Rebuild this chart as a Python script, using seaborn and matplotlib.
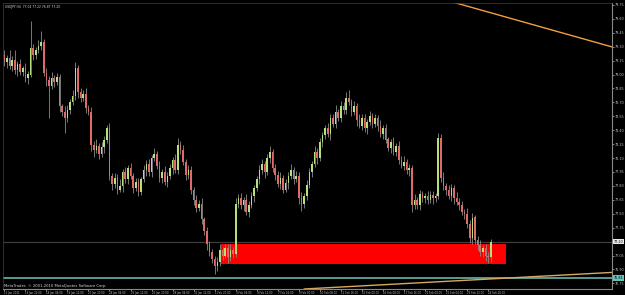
import matplotlib
matplotlib.use("Agg")
import numpy as np
import pandas as pd
import matplotlib.pyplot as plt
import seaborn as sns

# ---------------- data ----------------
first_open = 79.21
closes = [
    79.13, 79.18, 79.09, 79.16, 79.05, 79.11, 79.03, 79.07, 78.96, 79.00,
    79.28, 79.21, 79.26, 79.31, 79.35, 79.02, 78.94, 78.88, 78.96, 78.92,
    78.97, 78.66, 78.60, 78.53, 78.62, 78.70, 78.77, 79.07, 78.81, 78.75,
    78.79, 78.64, 78.60, 78.24, 78.19, 78.23, 78.14, 78.22, 78.30, 78.42,
    77.91, 77.82, 77.89, 77.76, 77.80, 77.95, 77.87, 77.99, 77.91, 77.78,
    77.84, 77.74, 77.87, 77.97, 78.04, 77.95, 78.10, 78.14, 78.02, 77.89,
    77.95, 77.84, 77.91, 77.99, 78.08, 77.97, 78.24, 78.19, 78.06, 77.92,
    77.97, 77.76, 77.65, 77.56, 77.61, 77.44, 77.31, 77.17, 77.09, 77.01,
    76.94, 76.98, 77.11, 77.05, 77.13, 77.03, 77.11, 77.07, 77.61, 77.67,
    77.59, 77.65, 77.52, 77.60, 77.69, 77.78, 77.87, 77.97, 78.04, 77.95,
    78.10, 78.17, 77.99, 77.92, 77.82, 77.89, 77.76, 77.83, 77.91, 77.97,
    77.87, 77.91, 77.67, 77.61, 77.69, 77.81, 77.95, 78.04, 78.17, 78.10,
    78.27, 78.35, 78.42, 78.36, 78.53, 78.47, 78.60, 78.53, 78.66, 78.62,
    78.75, 78.70, 78.60, 78.66, 78.51, 78.45, 78.53, 78.42, 78.49, 78.55,
    78.47, 78.53, 78.45, 78.36, 78.42, 78.30, 78.21, 78.27, 78.17, 78.23,
    78.08, 78.02, 78.06, 77.97, 77.99, 77.59, 77.65, 77.60, 77.71, 77.67,
    77.69, 77.65, 77.70, 77.67, 77.69, 78.32, 77.89, 77.80, 77.76, 77.69,
    77.78, 77.67, 77.63, 77.59, 77.52, 77.50, 77.39, 77.24, 77.46, 77.22,
    77.16, 77.09, 77.13, 77.05, 77.03, 77.20,
]
upper_wick = [
    .05, .03, .08, .04, .10, .03, .06, .02, .05, .04,
    .30, .05, .04, .06, .12, .03, .05, .04, .07, .03,
    .05, .04, .02, .06, .05, .04, .06, .06, .03, .05,
    .04, .06, .03, .05, .04, .08, .03, .05, .04, .04,
    .06, .03, .05, .04, .07, .03, .05, .04, .06, .03,
    .05, .04, .03, .06, .04, .05, .03, .07, .04, .05,
    .03, .06, .04, .05, .03, .06, .08, .04, .05, .03,
    .06, .04, .03, .05, .04, .06, .03, .05, .04, .03,
    .04, .05, .06, .03, .05, .04, .06, .03, .06, .04,
    .05, .03, .06, .04, .05, .03, .04, .06, .05, .03,
    .04, .06, .03, .05, .04, .06, .03, .05, .04, .07,
    .03, .05, .04, .06, .03, .05, .04, .03, .06, .04,
    .05, .03, .04, .06, .05, .04, .07, .03, .05, .04,
    .06, .08, .04, .05, .03, .06, .04, .05, .03, .06,
    .04, .05, .03, .06, .04, .05, .03, .04, .06, .03,
    .05, .04, .06, .03, .05, .04, .06, .03, .05, .04,
    .03, .06, .04, .05, .03, .05, .04, .06, .03, .05,
    .04, .03, .06, .04, .05, .03, .06, .04, .05, .03,
    .04, .06, .03, .05, .04, .03,
]
lower_wick = [
    .04, .06, .03, .05, .04, .07, .03, .05, .04, .06,
    .03, .05, .04, .03, .05, .04, .06, .35, .04, .05,
    .03, .06, .05, .16, .04, .05, .03, .04, .06, .05,
    .03, .05, .04, .06, .08, .04, .05, .03, .06, .04,
    .05, .06, .04, .05, .03, .06, .04, .05, .04, .06,
    .03, .05, .04, .03, .06, .04, .05, .03, .04, .05,
    .06, .03, .05, .04, .06, .03, .04, .05, .03, .06,
    .04, .05, .06, .04, .03, .05, .04, .06, .05, .04,
    .09, .06, .04, .05, .03, .06, .04, .05, .03, .05,
    .04, .06, .03, .05, .04, .06, .03, .05, .04, .06,
    .03, .05, .04, .06, .03, .05, .04, .03, .06, .04,
    .05, .03, .06, .08, .05, .04, .03, .05, .04, .06,
    .03, .05, .04, .03, .06, .04, .05, .03, .04, .05,
    .04, .03, .05, .04, .06, .03, .05, .04, .06, .03,
    .05, .04, .06, .03, .05, .04, .03, .06, .04, .05,
    .04, .03, .05, .04, .06, .07, .04, .05, .06, .04,
    .05, .04, .03, .06, .04, .03, .05, .04, .06, .03,
    .05, .06, .04, .05, .03, .06, .04, .05, .06, .04,
    .05, .04, .06, .06, .06, .05,
]
time_labels = [
    "13 Jan 2011", "14 Jan 22:00", "18 Jan 04:00", "19 Jan 12:00",
    "20 Jan 20:00", "24 Jan 04:00", "25 Jan 12:00", "26 Jan 20:00",
    "28 Jan 04:00", "31 Jan 12:00", "1 Feb 20:00", "3 Feb 04:00",
    "4 Feb 12:00", "7 Feb 16:00", "9 Feb 00:00", "10 Feb 08:00",
    "11 Feb 16:00", "15 Feb 00:00", "16 Feb 08:00", "17 Feb 16:00",
    "21 Feb 00:00", "22 Feb 04:00", "23 Feb 12:00", "24 Feb 20:00",
]
price_ticks = [79.75, 79.60, 79.45, 79.30, 79.15, 79.00, 78.85, 78.70, 78.55,
               78.40, 78.25, 78.10, 77.95, 77.80, 77.65, 77.50, 77.35, 77.20,
               77.05, 76.90, 76.75]
zone_bars = [82.5, 190.9]
zone_prices = [76.96, 77.17]
current_price = 77.20
support_level = 76.81
trend_top_bars = [168, 232]
trend_top_prices = [79.80, 79.29]
trend_bot_bars = [114, 232]
trend_bot_prices = [76.69, 76.87]
title_text = "USDJPY,H4  77.04 77.22 76.87 77.20"
copyright_text = "MetaTrader, \u00a9 2001-2010 MetaQuotes Software Corp."

# ---------------- build frame ----------------
opens = [first_open] + closes[:-1]
df = pd.DataFrame({"bar": np.arange(len(closes)), "open": opens, "close": closes,
                   "uw": upper_wick, "lw": lower_wick})
df["top"] = df[["open", "close"]].max(axis=1)
df["bot"] = df[["open", "close"]].min(axis=1)
df["high"] = df["top"] + df["uw"]
df["low"] = df["bot"] - df["lw"]
df["up"] = df["close"] >= df["open"]

sns.set_theme(style="dark", rc={
    "axes.facecolor": "black", "figure.facecolor": "black",
    "axes.edgecolor": "#808080", "axes.grid": False,
})
plt.rcParams["font.family"] = ["DejaVu Sans"]

fig = plt.figure(figsize=(6.25, 2.95), dpi=100)
ax = fig.add_axes([3 / 625, 6 / 295, 609 / 625, 286 / 295])
ax.set_facecolor("black")

# zone rectangle
ax.fill_between(zone_bars, zone_prices[0], zone_prices[1], color="#ff0000",
                linewidth=0, zorder=1)

# current price line and support line
ax.axhline(current_price, color="#3c3c3c", lw=0.9, zorder=0.5)
ax.axhline(support_level, color="#5fa89c", lw=1.3, zorder=2)

# trend lines
sns.lineplot(x=trend_top_bars, y=trend_top_prices, ax=ax, color="#f0a040", lw=1.0, zorder=2)
sns.lineplot(x=trend_bot_bars, y=trend_bot_prices, ax=ax, color="#d8a860", lw=1.0, zorder=2)

# candles
ax.vlines(df["bar"], df["low"], df["high"], colors="#8a8a8a", lw=0.6, zorder=3)
body_h = (df["top"] - df["bot"]).clip(lower=0.008)
colors = np.where(df["up"], "#b6e07a", "#e06a6a")
ax.bar(df["bar"], body_h, bottom=df["bot"], width=0.6, color=colors,
       linewidth=0, zorder=4)

ax.set_xlim(-0.5, 231.1)
ax.set_ylim(76.69, 79.77)

# axes styling
ax.yaxis.tick_right()
ax.set_yticks(price_ticks)
# the current-price box takes the place of its own tick label
ax.set_yticklabels(["" if abs(p - current_price) < 1e-9 else f"{p:.2f}" for p in price_ticks])
ax.tick_params(axis="y", colors="#bdbdbd", labelsize=2.4, length=1.5, width=0.5, pad=0.8,
               right=True, left=False)
ax.set_xticks(np.arange(len(time_labels)) * 8)
ax.set_xticklabels(time_labels, ha="left")
ax.tick_params(axis="x", colors="#bdbdbd", labelsize=1.9, length=1.2, width=0.5, pad=0.4,
               bottom=True)
for s in ["left", "top"]:
    ax.spines[s].set_color("#404040")
    ax.spines[s].set_linewidth(0.5)
for s in ["right", "bottom"]:
    ax.spines[s].set_color("#8a8a8a")
    ax.spines[s].set_linewidth(0.8)
ax.set_xlabel("")
ax.set_ylabel("")

# price boxes on the axis
ax.annotate(f"{current_price:.2f}", xy=(1.0, current_price), xycoords=("axes fraction", "data"),
            xytext=(1.0, 0), textcoords="offset points", fontsize=2.4, color="black",
            va="center", ha="left",
            bbox=dict(boxstyle="square,pad=0.2", fc="#e8e8e8", ec="none"), zorder=10,
            annotation_clip=False)
ax.annotate(f"{support_level:.2f}", xy=(1.0, support_level), xycoords=("axes fraction", "data"),
            xytext=(1.0, 0), textcoords="offset points", fontsize=2.4, color="black",
            va="center", ha="left",
            bbox=dict(boxstyle="square,pad=0.2", fc="#5fc8b8", ec="none"), zorder=10,
            annotation_clip=False)

ax.text(0.003, 0.992, title_text, transform=ax.transAxes, fontsize=2.2, color="#d8d8d8",
        va="top", ha="left")
ax.text(0.002, 0.004, copyright_text, transform=ax.transAxes, fontsize=2.7, color="#d8d8d8",
        va="bottom", ha="left")

fig.savefig("out.png", dpi=100, facecolor="black")
